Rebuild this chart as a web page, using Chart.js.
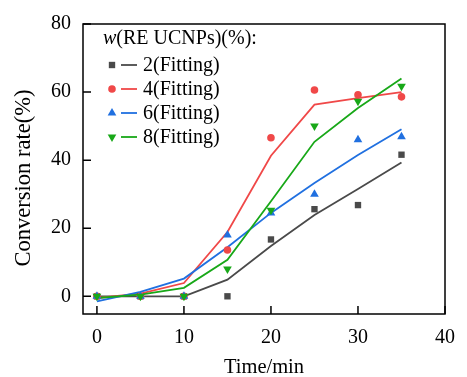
<!DOCTYPE html>
<html><head><meta charset="utf-8">
<script src="https://cdn.jsdelivr.net/npm/chart.js@4.4.0/dist/chart.umd.min.js"></script>
<style>html,body{margin:0;padding:0;background:#fff;}canvas{display:block;}</style>
</head><body>
<canvas id="c" width="467" height="377"></canvas>
<script>
const times = [0, 5, 10, 15, 20, 25, 30, 35];
const meas2 = [0, 0, 0, 0, 16.7, 25.6, 26.8, 41.6];
const fit2  = [0, 0, 0, 4.9, 14.8, 23.9, 31.5, 39.3];
const meas4 = [0, 0, 0, 13.6, 46.6, 60.6, 59.2, 58.6];
const fit4  = [-0.5, 0.8, 3.9, 18.9, 41.3, 56.3, 58.2, 60];
const meas6 = [0, 0, 0, 18, 24.5, 30, 46, 46.9];
const fit6  = [-1.5, 1.3, 5.2, 14.4, 24.5, 33.3, 41.5, 49.1];
const meas8 = [0, 0, 0, 8, 25.3, 50, 57.3, 61.7];
const fit8  = [-0.5, 0.5, 2.5, 10.7, 27.9, 45.4, 55.3, 64];
const xTicks = [0, 10, 20, 30, 40];
const yTicks = [0, 20, 40, 60, 80];
const seriesNames = ['2(Fitting)', '4(Fitting)', '6(Fitting)', '8(Fitting)'];
const legendTitle = ['w', '(RE UCNPs)(%):'];
const xTitle = 'Time/min';
const yTitle = 'Conversion rate(%)';

const colors = ['#4a4a4a', '#f04848', '#2070e0', '#18a818'];
const styles = [
  {pointStyle: 'rect', radius: 4.5, rotation: 0},
  {pointStyle: 'circle', radius: 3.8, rotation: 0},
  {pointStyle: 'triangle', radius: 5, rotation: 0},
  {pointStyle: 'triangle', radius: 5, rotation: 180}
];
const FONT = "'Liberation Serif', 'Times New Roman', serif";
const meas = [meas2, meas4, meas6, meas8];
const fits = [fit2, fit4, fit6, fit8];
const xy = (arr) => times.map((t, i) => ({x: t, y: arr[i]}));

const datasets = [];
for (let k = 0; k < 4; k++) {
  datasets.push({
    type: 'line', data: xy(fits[k]), borderColor: colors[k], borderWidth: 1.8,
    pointRadius: 0, fill: false, tension: 0, order: 10 - k
  });
}
for (let k = 0; k < 4; k++) {
  datasets.push({
    type: 'scatter', data: xy(meas[k]), backgroundColor: colors[k], borderColor: colors[k],
    borderWidth: 0, pointStyle: styles[k].pointStyle, pointRadius: styles[k].radius,
    rotation: styles[k].rotation, order: 5 - k, showLine: false
  });
}

const framePlugin = {
  id: 'frame',
  afterDraw(chart) {
    const ctx = chart.ctx, a = chart.chartArea;
    const xs = chart.scales.x, ys = chart.scales.y;
    ctx.save();
    ctx.strokeStyle = '#000';
    ctx.lineWidth = 1.5;
    ctx.strokeRect(a.left, a.top, a.right - a.left, a.bottom - a.top);
    ctx.beginPath();
    xTicks.forEach(v => {
      const px = xs.getPixelForValue(v);
      ctx.moveTo(px, a.bottom); ctx.lineTo(px, a.bottom - 8);
    });
    yTicks.forEach(v => {
      const py = ys.getPixelForValue(v);
      ctx.moveTo(a.left, py); ctx.lineTo(a.left + 8, py);
    });
    ctx.stroke();

    // axis titles
    ctx.fillStyle = '#000';
    ctx.font = '20.5px ' + FONT;
    ctx.textAlign = 'center';
    ctx.textBaseline = 'middle';
    ctx.fillText(xTitle, (a.left + a.right) / 2, 368);
    ctx.save();
    ctx.translate(24, 178);
    ctx.rotate(-Math.PI / 2);
    ctx.font = '22.5px ' + FONT;
    ctx.fillText(yTitle, 0, 0);
    ctx.restore();

    // legend
    ctx.textAlign = 'left';
    ctx.textBaseline = 'middle';
    ctx.font = 'italic 20px ' + FONT;
    let tx = 103;
    ctx.fillText(legendTitle[0], tx, 39);
    tx += ctx.measureText(legendTitle[0]).width;
    ctx.font = '20px ' + FONT;
    ctx.fillText(legendTitle[1], tx, 39);
    const rowY = [65, 89, 113, 137];
    for (let k = 0; k < 4; k++) {
      const y = rowY[k];
      ctx.fillStyle = colors[k];
      ctx.strokeStyle = colors[k];
      Chart.helpers.drawPoint(ctx, {pointStyle: styles[k].pointStyle, radius: styles[k].radius, rotation: styles[k].rotation, borderWidth: 0}, 112, y);
      ctx.beginPath();
      ctx.lineWidth = 1.8;
      ctx.moveTo(121, y); ctx.lineTo(137, y);
      ctx.stroke();
      ctx.fillStyle = '#000';
      ctx.fillText(seriesNames[k], 143, y + 1);
    }
    ctx.restore();
  }
};

new Chart(document.getElementById('c'), {
  data: {datasets},
  options: {
    responsive: false, animation: false,
    layout: {padding: {left: 0, top: 21, right: 11, bottom: 0}},
    plugins: {legend: {display: false}, tooltip: {enabled: false}},
    scales: {
      x: {
        type: 'linear', min: -1.6, max: 40,
        afterBuildTicks: s => { s.ticks = xTicks.map(v => ({value: v})); },
        afterFit: s => { s.height = 63; },
        grid: {display: false, drawTicks: false}, border: {display: false},
        ticks: {color: '#000', font: {family: FONT, size: 20}, padding: 12, maxRotation: 0, autoSkip: false}
      },
      y: {
        type: 'linear', min: -5.2, max: 80,
        afterBuildTicks: s => { s.ticks = yTicks.map(v => ({value: v})); },
        afterFit: s => { s.width = 83; },
        grid: {display: false, drawTicks: false}, border: {display: false},
        ticks: {color: '#000', font: {family: FONT, size: 20}, padding: 12, autoSkip: false}
      }
    }
  },
  plugins: [framePlugin]
});
</script>
</body></html>
